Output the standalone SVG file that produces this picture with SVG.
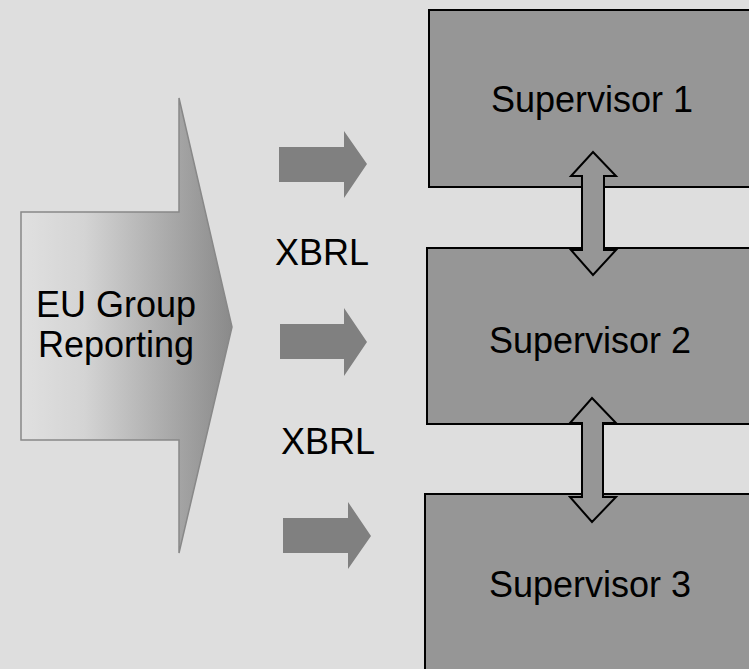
<svg xmlns="http://www.w3.org/2000/svg" width="749" height="669" viewBox="0 0 749 669">
<style>
.lbl{font-family:"Liberation Sans",Arial,sans-serif;font-size:36px;fill:#000;text-anchor:middle}
.box{fill:#969696;stroke:#000;stroke-width:2}
.flow{fill:#808080}
.dbl{fill:#969696;stroke:#000;stroke-width:2;stroke-linejoin:miter}
</style>
<defs>
<linearGradient id="g" x1="0" y1="0" x2="1" y2="0">
<stop offset="0" stop-color="#e0e0e0"/>
<stop offset="0.3" stop-color="#d4d4d4"/>
<stop offset="1" stop-color="#8a8a8a"/>
</linearGradient>
</defs>
<rect x="0" y="0" width="749" height="669" fill="#dedede"/>
<g id="eu-group">
<polygon points="21,212 179,212 179,98 232,327 179,553 179,440 21,440" fill="url(#g)" stroke="#888" stroke-width="1.5"/>
<text class="lbl" x="116" y="317">EU Group</text>
<text class="lbl" x="116" y="357">Reporting</text>
</g>
<g id="supervisor1">
<rect class="box" x="429" y="10" width="340" height="177"/>
<text class="lbl" x="592" y="112">Supervisor 1</text>
</g>
<g id="supervisor2">
<rect class="box" x="427" y="248" width="340" height="176"/>
<text class="lbl" x="590" y="353">Supervisor 2</text>
</g>
<g id="supervisor3">
<rect class="box" x="425" y="494" width="340" height="190"/>
<text class="lbl" x="590" y="597">Supervisor 3</text>
</g>
<g id="connectors">
<polygon class="flow" points="279,147 344,147 344,131 367,164 344,198 344,182 279,182"/>
<polygon class="flow" points="280,324 344,324 344,308 367,342 344,376 344,359 280,359"/>
<polygon class="flow" points="283,518 348,518 348,502 371,536 348,569 348,553 283,553"/>
<polygon class="dbl" points="593,152 616,176 604,176 604,250 616,250 593,275 571,250 582,250 582,176 571,176"/>
<polygon class="dbl" points="592,398 616,423 603,423 603,497 616,497 592,522 570,497 582,497 582,423 570,423"/>
<text class="lbl" x="322" y="265">XBRL</text>
<text class="lbl" x="328" y="454">XBRL</text>
</g>
</svg>
